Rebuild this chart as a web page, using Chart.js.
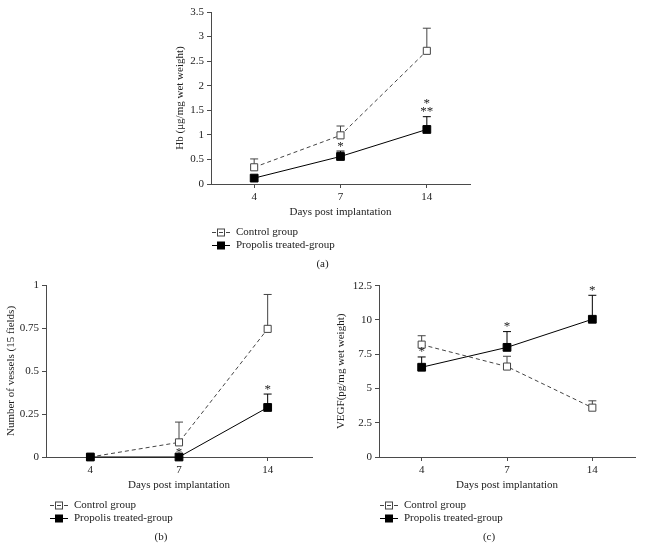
<!DOCTYPE html>
<html>
<head>
<meta charset="utf-8">
<script src="https://cdn.jsdelivr.net/npm/chart.js@4.4.1/dist/chart.umd.min.js"></script>
<style>
    html, body { margin: 0; padding: 0; background: #fff; }
    body { width: 648px; height: 547px; position: relative; overflow: hidden; }
    canvas { position: absolute; }
</style>
</head>
<body>
<canvas id="chart-hb" width="330" height="275" style="left:150px;top:0px"></canvas>
<canvas id="chart-vessels" width="320" height="277" style="left:0px;top:270px"></canvas>
<canvas id="chart-vegf" width="318" height="277" style="left:330px;top:270px"></canvas>
<script>
// x categories shared by all three panels
const days = ['4', '7', '14'];
const seriesNames = ['Control group', 'Propolis treated-group'];

// (a) Hb content
const hbControl     = [0.34, 0.99, 2.71];
const hbControlSem  = [0.17, 0.19, 0.46];
const hbPropolis    = [0.12, 0.56, 1.11];
const hbPropolisSem = [0, 0.11, 0.26];
const hbStars       = [[], ['*'], ['**', '*']];
const hbTicks       = [0, 0.5, 1, 1.5, 2, 2.5, 3, 3.5];

// (b) vessel counts
const vesControl     = [0, 0.085, 0.745];
const vesControlSem  = [0, 0.118, 0.2];
const vesPropolis    = [0, 0, 0.288];
const vesPropolisSem = [0, 0, 0.078];
const vesStars       = [[], ['*'], ['*']];
const vesTicks       = [0, 0.25, 0.5, 0.75, 1];

// (c) VEGF
const vegfControl     = [8.2, 6.6, 3.6];
const vegfControlSem  = [0.65, 0.75, 0.5];
const vegfPropolis    = [6.55, 8.0, 10.05];
const vegfPropolisSem = [0.75, 1.15, 1.75];
const vegfStars       = [['*'], ['*'], ['*']];
const vegfTicks       = [0, 2.5, 5, 7.5, 10, 12.5];

const SERIF = '"Liberation Serif", "DejaVu Serif", serif';
const AXIS_COLOR = '#4a4a4a';
const TEXT_COLOR = '#222';
const CTRL_COLOR = '#444';
const PROP_COLOR = '#000';

// error bars (upward only), asterisks, legend and panel caption
const panelExtras = {
    id: 'panelExtras',
    beforeDatasetsDraw(chart) {
        const ctx = chart.ctx;
        const yScale = chart.scales.y;
        ctx.save();
        chart.data.datasets.forEach((ds, i) => {
            const meta = chart.getDatasetMeta(i);
            ctx.strokeStyle = ds.borderColor;
            ctx.lineWidth = 1;
            ctx.setLineDash([]);
            meta.data.forEach((pt, j) => {
                const sem = ds.sem[j];
                if (!sem) return;
                const top = yScale.getPixelForValue(ds.data[j] + sem);
                ctx.beginPath();
                ctx.moveTo(pt.x, pt.y);
                ctx.lineTo(pt.x, top);
                ctx.moveTo(pt.x - 4, top);
                ctx.lineTo(pt.x + 4, top);
                ctx.stroke();
            });
        });
        ctx.restore();
    },
    afterDatasetsDraw(chart, args, opts) {
        const ctx = chart.ctx;
        const yScale = chart.scales.y;
        const ds = chart.data.datasets[1];
        const meta = chart.getDatasetMeta(1);
        ctx.save();
        ctx.fillStyle = TEXT_COLOR;
        ctx.font = '13px ' + SERIF;
        ctx.textAlign = 'center';
        ctx.textBaseline = 'alphabetic';
        opts.stars.forEach((lines, j) => {
            const top = yScale.getPixelForValue(ds.data[j] + ds.sem[j]);
            lines.forEach((s, k) => {
                ctx.fillText(s, meta.data[j].x, top - 1.5 - k * 8.3);
            });
        });
        ctx.restore();
    },
    afterDraw(chart, args, opts) {
        const ctx = chart.ctx;
        const area = chart.chartArea;
        const x0 = area.left + opts.legendX;
        ctx.save();
        ctx.font = '11px ' + SERIF;
        ctx.textBaseline = 'middle';
        chart.data.datasets.forEach((ds, i) => {
            const y = area.bottom + 48.5 + i * 13;
            ctx.strokeStyle = ds.borderColor;
            ctx.lineWidth = 1;
            ctx.setLineDash(ds.borderDash || []);
            ctx.beginPath();
            ctx.moveTo(x0, y);
            ctx.lineTo(x0 + 18, y);
            ctx.stroke();
            ctx.setLineDash([]);
            if (ds.pointBackgroundColor === '#fff') {
                ctx.strokeRect(x0 + 5.5, y - 3.5, 7, 7);
            } else {
                ctx.fillStyle = ds.pointBackgroundColor;
                ctx.fillRect(x0 + 5, y - 4, 8, 8);
            }
            ctx.fillStyle = TEXT_COLOR;
            ctx.textAlign = 'left';
            ctx.fillText(ds.label, x0 + 24, y);
        });
        ctx.textAlign = 'center';
        ctx.fillText(opts.caption, (area.left + area.right) / 2 - 18, area.bottom + 80);
        ctx.restore();
    },
};

function makeDatasets(ctrl, ctrlSem, prop, propSem) {
    return [
        {
            label: seriesNames[0], data: ctrl, sem: ctrlSem, order: 1,
            borderColor: CTRL_COLOR, borderWidth: 1, borderDash: [4, 3],
            pointStyle: 'rect', pointRadius: 5, pointBorderWidth: 1,
            pointBackgroundColor: '#fff', pointBorderColor: CTRL_COLOR,
            tension: 0, clip: false,
        },
        {
            label: seriesNames[1], data: prop, sem: propSem, order: 0,
            borderColor: PROP_COLOR, borderWidth: 1,
            pointStyle: 'rect', pointRadius: 5.5, pointBorderWidth: 1,
            pointBackgroundColor: PROP_COLOR, pointBorderColor: PROP_COLOR,
            tension: 0, clip: false,
        },
    ];
}

function makeChart(canvasId, cfg) {
    const font = { family: SERIF, size: 11 };
    return new Chart(document.getElementById(canvasId), {
        type: 'line',
        data: { labels: days, datasets: cfg.datasets },
        options: {
            responsive: false,
            animation: false,
            events: [],
            layout: { padding: cfg.padding },
            plugins: {
                legend: { display: false },
                tooltip: { enabled: false },
                panelExtras: { stars: cfg.stars, caption: cfg.caption, legendX: cfg.legendX },
            },
            scales: {
                x: {
                    type: 'category',
                    offset: true,
                    border: { display: true, color: AXIS_COLOR, width: 1 },
                    grid: { drawOnChartArea: false, drawTicks: true, tickLength: 4, color: AXIS_COLOR, offset: false },
                    ticks: { color: TEXT_COLOR, font, padding: 3, maxRotation: 0 },
                    title: { display: true, text: 'Days post implantation', color: TEXT_COLOR, font, padding: { top: 0, bottom: 5.5 } },
                    afterFit: (s) => { s.height = 40; },
                },
                y: {
                    type: 'linear',
                    min: cfg.ticks[0],
                    max: cfg.ticks[cfg.ticks.length - 1],
                    afterBuildTicks: (s) => { s.ticks = cfg.ticks.map((v) => ({ value: v })); },
                    border: { display: true, color: AXIS_COLOR, width: 1 },
                    grid: { drawOnChartArea: false, drawTicks: true, tickLength: 4, color: AXIS_COLOR },
                    ticks: { color: TEXT_COLOR, font, padding: 3, callback: (v) => String(v) },
                    title: { display: true, text: cfg.yTitle, color: TEXT_COLOR, font, padding: { top: cfg.yTitlePad, bottom: 0 } },
                    afterFit: (s) => { s.width = cfg.yWidth; },
                },
            },
        },
        plugins: [panelExtras],
    });
}

makeChart('chart-hb', {
    datasets: makeDatasets(hbControl, hbControlSem, hbPropolis, hbPropolisSem),
    ticks: hbTicks, stars: hbStars, caption: '(a)',
    yTitle: 'Hb (μg/mg wet weight)', yTitlePad: 24, yWidth: 61,
    padding: { left: 0, right: 10, top: 12, bottom: 51 }, legendX: 1,
});

makeChart('chart-vessels', {
    datasets: makeDatasets(vesControl, vesControlSem, vesPropolis, vesPropolisSem),
    ticks: vesTicks, stars: vesStars, caption: '(b)',
    yTitle: 'Number of vessels (15 fields)', yTitlePad: 5, yWidth: 46,
    padding: { left: 0, right: 8, top: 15, bottom: 50 }, legendX: 4,
});

makeChart('chart-vegf', {
    datasets: makeDatasets(vegfControl, vegfControlSem, vegfPropolis, vegfPropolisSem),
    ticks: vegfTicks, stars: vegfStars, caption: '(c)',
    yTitle: 'VEGF(pg/mg wet weight)', yTitlePad: 5, yWidth: 49,
    padding: { left: 0, right: 13, top: 15.7, bottom: 50 }, legendX: 1,
});
</script>
</body>
</html>
